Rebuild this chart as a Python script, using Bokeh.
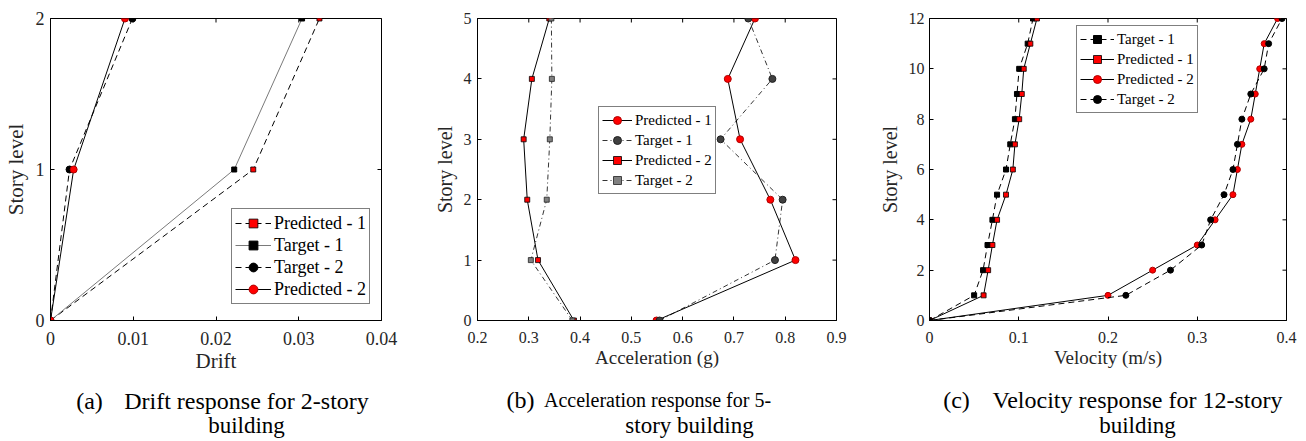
from bokeh.plotting import figure
from bokeh.layouts import row, column
from bokeh.models import Range1d, FixedTicker
from bokeh.core.properties import value
from bokeh.embed import file_html
from bokeh.resources import INLINE

FONT = "Liberation Serif"
AX = "#262626"

# ---------------- data: (a) drift, 2-story ----------------
a_story = [0, 1, 2]
a_pred1 = [0, 0.0245, 0.0325]
a_targ1 = [0, 0.0222, 0.0304]
a_targ2 = [0, 0.0023, 0.0099]
a_pred2 = [0, 0.0028, 0.0090]
a_xticks = [0, 0.01, 0.02, 0.03, 0.04]
a_xtick_labels = ["0", "0.01", "0.02", "0.03", "0.04"]
a_yticks = [0, 1, 2]

# ---------------- data: (b) acceleration, 5-story ----------------
b_story = [0, 1, 2, 3, 4, 5]
b_pred1 = [0.549, 0.820, 0.771, 0.712, 0.688, 0.741]
b_targ1 = [0.555, 0.780, 0.795, 0.674, 0.775, 0.728]
b_pred2 = [0.388, 0.318, 0.297, 0.290, 0.306, 0.340]
b_targ2 = [0.385, 0.304, 0.335, 0.341, 0.345, 0.344]
b_xticks = [0.2, 0.3, 0.4, 0.5, 0.6, 0.7, 0.8, 0.9]
b_xtick_labels = ["0.2", "0.3", "0.4", "0.5", "0.6", "0.7", "0.8", "0.9"]
b_yticks = [0, 1, 2, 3, 4, 5]

# ---------------- data: (c) velocity, 12-story ----------------
c_story = [0, 1, 2, 3, 4, 5, 6, 7, 8, 9, 10, 11, 12]
c_targ1 = [0, 0.050, 0.060, 0.065, 0.0705, 0.0757, 0.0857, 0.0905, 0.0957, 0.098, 0.1005, 0.110, 0.116]
c_pred1 = [0, 0.0606, 0.0657, 0.0705, 0.0757, 0.0857, 0.0934, 0.0957, 0.1005, 0.1034, 0.1056, 0.113, 0.1204]
c_pred2 = [0, 0.200, 0.250, 0.300, 0.320, 0.340, 0.345, 0.350, 0.360, 0.365, 0.370, 0.375, 0.390]
c_targ2 = [0, 0.220, 0.270, 0.305, 0.315, 0.330, 0.340, 0.345, 0.350, 0.360, 0.375, 0.380, 0.395]
c_xticks = [0, 0.1, 0.2, 0.3, 0.4]
c_xtick_labels = ["0", "0.1", "0.2", "0.3", "0.4"]
c_yticks = [0, 2, 4, 6, 8, 10, 12]

cap_text = ["(a)", "Drift response for 2-story", "building",
            "(b)", "Acceleration response for 5-", "story building",
            "(c)", "Velocity response for 12-story", "building"]

H = 382          # height of the chart row
TOP = 18         # frame top border
FH = 302         # frame height


def make_fig(width, bl, fw, xr, yr, xticks, xlabels, yticks, tick_fs, xlab, xlab_fs, ylab_fs, ystand):
    p = figure(width=width, height=H, output_backend="svg", toolbar_location=None,
               x_range=Range1d(*xr), y_range=Range1d(*yr),
               min_border_left=bl, min_border_top=TOP,
               min_border_right=width - bl - fw, min_border_bottom=H - TOP - FH)
    p.xgrid.visible = False
    p.ygrid.visible = False
    p.outline_line_color = "black"
    p.outline_line_width = 1
    p.background_fill_color = "white"
    p.border_fill_color = "white"

    for ax in (p.xaxis[0], p.yaxis[0]):
        ax.axis_line_color = "black"
        ax.major_tick_line_color = "black"
        ax.major_tick_in = 4
        ax.major_tick_out = 0
        ax.minor_tick_line_color = None
        ax.major_label_text_font = FONT
        ax.major_label_text_font_size = f"{tick_fs}px"
        ax.major_label_text_color = AX
        ax.axis_label_text_font = FONT
        ax.axis_label_text_font_style = "normal"
        ax.axis_label_text_color = AX

    p.xaxis.ticker = FixedTicker(ticks=xticks)
    p.xaxis.major_label_overrides = {t: l for t, l in zip(xticks, xlabels)}
    p.xaxis.axis_label = xlab
    p.xaxis.axis_label_text_font_size = f"{xlab_fs}px"
    p.xaxis.major_label_standoff = 11
    p.xaxis.axis_label_standoff = 1

    p.yaxis.ticker = FixedTicker(ticks=yticks)
    p.yaxis.axis_label = "Story level"
    p.yaxis.axis_label_text_font_size = f"{ylab_fs}px"
    p.yaxis.major_label_standoff = ystand
    p.yaxis.axis_label_standoff = 5

    # mirrored inward tick marks on top and right edges (half of each dash is clipped by the frame)
    p.scatter(xticks, [yr[1]] * len(xticks), marker="dash", angle=1.5708, size=8,
              line_color="black", line_width=1)
    p.scatter([xr[1]] * len(yticks), yticks, marker="dash", size=8,
              line_color="black", line_width=1)
    return p


def style_legend(p, loc, fs, glyph_w, row_h):
    leg = p.legend[0]
    leg.location = loc
    leg.label_text_font = FONT
    leg.label_text_font_size = f"{fs}px"
    leg.label_text_color = "black"
    leg.border_line_color = "black"
    leg.border_line_width = 1
    leg.padding = 3
    leg.spacing = 0
    leg.margin = 0
    leg.glyph_width = glyph_w
    leg.glyph_height = row_h
    leg.label_height = row_h
    leg.label_standoff = 3
    leg.background_fill_alpha = 1


RED = "#FF0000"

# ---------------- panel (a) ----------------
pa = make_fig(430, 50, 331, (0, 0.04), (0, 2), a_xticks, a_xtick_labels, a_yticks,
              18, "Drift", 21, 21, 6)
pa.line(a_pred1, a_story, line_color="black", line_width=1, line_dash="6 4", legend_label="Predicted - 1")
pa.scatter(a_pred1, a_story, marker="square", size=5, fill_color=RED, line_color="black",
           line_width=0.8, legend_label="Predicted - 1")
pa.line(a_targ1, a_story, line_color="#7a7a7a", line_width=1, legend_label="Target - 1")
pa.scatter(a_targ1, a_story, marker="square", size=5, fill_color="black", line_color="black",
           legend_label="Target - 1")
pa.line(a_targ2, a_story, line_color="black", line_width=1, line_dash="6 4", legend_label="Target - 2")
pa.scatter(a_targ2, a_story, marker="circle", size=7, fill_color="black", line_color="black",
           legend_label="Target - 2")
pa.line(a_pred2, a_story, line_color="black", line_width=1, legend_label="Predicted - 2")
pa.scatter(a_pred2, a_story, marker="circle", size=7, fill_color=RED, line_color="#b00000",
           legend_label="Predicted - 2")
style_legend(pa, (181, 16), 18, 36, 22)

# ---------------- panel (b) ----------------
pb = make_fig(445, 43, 363, (0.2, 0.9), (0, 5), b_xticks, b_xtick_labels, b_yticks,
              16, "Acceleration (g)", 19, 20, 6)
pb.line(b_pred1, b_story, line_color="black", line_width=1, legend_label="Predicted - 1")
pb.scatter(b_pred1, b_story, marker="circle", size=7, fill_color=RED, line_color="#b00000",
           legend_label="Predicted - 1")
pb.line(b_targ1, b_story, line_color="black", line_width=0.8, line_dash="5 3 1 3", legend_label="Target - 1")
pb.scatter(b_targ1, b_story, marker="circle", size=7, fill_color="#404040", line_color="#202020",
           legend_label="Target - 1")
pb.line(b_pred2, b_story, line_color="black", line_width=1, legend_label="Predicted - 2")
pb.scatter(b_pred2, b_story, marker="square", size=5, fill_color=RED, line_color="black",
           line_width=0.8, legend_label="Predicted - 2")
pb.line(b_targ2, b_story, line_color="black", line_width=0.8, line_dash="5 3 1 3", legend_label="Target - 2")
pb.scatter(b_targ2, b_story, marker="square", size=5, fill_color="#808080", line_color="#202020",
           line_width=0.8, legend_label="Target - 2")
style_legend(pb, (121, 126), 15, 30, 20)

# ---------------- panel (c) ----------------
pc = make_fig(425, 50, 361, (0, 0.4), (0, 12), c_xticks, c_xtick_labels, c_yticks,
              16, "Velocity (m/s)", 19, 20, 5)
pc.line(c_targ1, c_story, line_color="black", line_width=1, line_dash="6 4", legend_label="Target - 1")
pc.scatter(c_targ1, c_story, marker="square", size=5, fill_color="black", line_color="black",
           legend_label="Target - 1")
pc.line(c_pred1, c_story, line_color="black", line_width=1, legend_label="Predicted - 1")
pc.scatter(c_pred1, c_story, marker="square", size=5, fill_color=RED, line_color="black",
           line_width=0.8, legend_label="Predicted - 1")
pc.line(c_pred2, c_story, line_color="black", line_width=1, legend_label="Predicted - 2")
pc.scatter(c_pred2, c_story, marker="circle", size=6, fill_color=RED, line_color="#b00000",
           legend_label="Predicted - 2")
pc.line(c_targ2, c_story, line_color="black", line_width=1, line_dash="6 4", legend_label="Target - 2")
pc.scatter(c_targ2, c_story, marker="circle", size=6, fill_color="black", line_color="black",
           legend_label="Target - 2")
style_legend(pc, (147, 207), 15, 34, 20)

# ---------------- captions (page-pixel layout strip) ----------------
CAP_TOP = H
CAP_BOT = 440
cap = figure(width=1300, height=CAP_BOT - CAP_TOP, output_backend="svg", toolbar_location=None,
             x_range=Range1d(0, 1300), y_range=Range1d(CAP_BOT, CAP_TOP),
             x_axis_type=None, y_axis_type=None, min_border=0)
cap.outline_line_color = None
cap.xgrid.visible = False
cap.ygrid.visible = False
cap_x = [89, 246, 246, 520, 657, 689, 956, 1137, 1137]
cap_y = [400, 400, 425, 399, 399, 425, 399, 399, 425]
cap_fs = ["24px", "24px", "23px", "24px", "20px", "23px", "24px", "24px", "23px"]
cap.text(x=cap_x, y=cap_y, text=cap_text, text_font=value(FONT), text_font_size=cap_fs,
         text_align="center", text_baseline="alphabetic", text_color="black")

layout = column(row(pa, pb, pc), cap)
open("out.html", "w").write(file_html(layout, INLINE))
